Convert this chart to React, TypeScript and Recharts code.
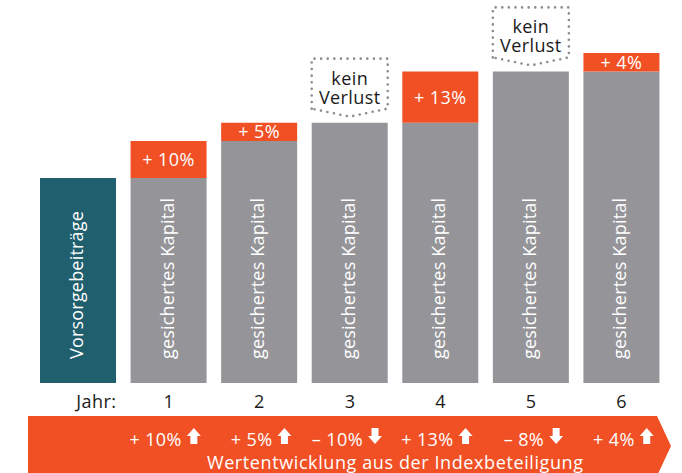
import React from "react";
import { BarChart, Bar, XAxis, YAxis, Cell, LabelList } from "recharts";

const categories = ["Jahr:", "1", "2", "3", "4", "5", "6"];
const gesichertesKapital = [100, 100, 118, 127, 127, 152, 152];
const zuwachs = [0, 18, 9, 0, 25, 0, 9];
const zuwachsLabels = ["", "+ 10%", "+ 5%", "", "+ 13%", "", "+ 4%"];
const balkenText = [
  "Vorsorgebeiträge",
  "gesichertes Kapital",
  "gesichertes Kapital",
  "gesichertes Kapital",
  "gesichertes Kapital",
  "gesichertes Kapital",
  "gesichertes Kapital",
];
const keinVerlust = ["", "", "", "kein Verlust", "", "kein Verlust", ""];
const wertentwicklung = ["", "+ 10%", "+ 5%", "– 10%", "+ 13%", "– 8%", "+ 4%"];
const richtung = ["", "up", "up", "down", "up", "down", "up"];
const bannerTitel = "Wertentwicklung aus der Indexbeteiligung";

const W = 682;
const H = 473;
const MARGIN = { top: 14, right: 15, bottom: 0, left: 33 };
const FONT = "'Open Sans', 'Noto Sans', sans-serif";
const ORANGE = "#F15025";
const TEAL = "#1F5F6E";
const GREY = "#959599";

const data = categories.map((c, i) => ({
  cat: c,
  gesichert: gesichertesKapital[i],
  zuwachs: zuwachs[i],
  zuwachsLabel: zuwachsLabels[i],
  balkenText: balkenText[i],
  keinVerlust: keinVerlust[i],
}));

const arrowPath = (ax: number, ay: number, dir: string) => {
  if (dir === "up") {
    return `M${ax + 7},${ay} L${ax + 14},${ay + 8} L${ax + 10.5},${ay + 8} L${ax + 10.5},${ay + 16} L${ax + 3.5},${ay + 16} L${ax + 3.5},${ay + 8} L${ax},${ay + 8} Z`;
  }
  return `M${ax + 7},${ay + 16} L${ax + 14},${ay + 8} L${ax + 10.5},${ay + 8} L${ax + 10.5},${ay} L${ax + 3.5},${ay} L${ax + 3.5},${ay + 8} L${ax},${ay + 8} Z`;
};

const textProps = { fontSize: 18, fontFamily: FONT, fontWeight: 400, letterSpacing: 0.4 };

const YearTick = (props: any) => {
  const { x, y, payload } = props;
  const i = payload.index;
  const band = (W - MARGIN.left - MARGIN.right) / categories.length;
  if (i === 0) {
    const left = 28;
    const right = 657;
    const top = y + 33;
    const bottom = y + 93;
    const mid = (top + bottom) / 2;
    const titleX = x + 3.5 * band;
    return (
      <g>
        <path
          d={`M${left},${top} L${right},${top} L${right + 14},${mid} L${right},${bottom} L${left},${bottom} Z`}
          fill={ORANGE}
        />
        <text x={x + 38} y={y + 25} textAnchor="end" {...textProps} fill="#1a1a1a">
          {payload.value}
        </text>
        <text x={titleX} y={y + 86} textAnchor="middle" {...textProps} letterSpacing={0.6} fill="#ffffff">
          {bannerTitel}
        </text>
      </g>
    );
  }
  return (
    <g>
      <text x={x} y={y + 25} textAnchor="middle" {...textProps} fill="#1a1a1a">
        {payload.value}
      </text>
      <text x={x + 13} y={y + 63} textAnchor="end" {...textProps} fill="#ffffff">
        {wertentwicklung[i]}
      </text>
      <path d={arrowPath(x + 18, y + 45, richtung[i])} fill="#ffffff" />
    </g>
  );
};

const getBox = (props: any) => {
  const vb = props.viewBox || {};
  const x = props.x ?? vb.x;
  const y = props.y ?? vb.y;
  const width = props.width ?? vb.width;
  const height = props.height ?? vb.height;
  return { x: Number(x), y: Number(y), width: Number(width), height: Number(height) };
};

const RotatedLabel = (props: any) => {
  const { value } = props;
  if (!value) return null;
  const { x, y, width, height } = getBox(props);
  const px = x + width / 2 + 5;
  const py = y + height - 24;
  return (
    <text
      x={px}
      y={py}
      transform={`rotate(-90, ${px}, ${py})`}
      textAnchor="start"
      {...textProps}
      letterSpacing={0.2}
      fill="#ffffff"
    >
      {value}
    </text>
  );
};

const KeinVerlustLabel = (props: any) => {
  const { value } = props;
  if (!value) return null;
  const { x, y, width } = getBox(props);
  const words = String(value).split(" ");
  const d = `M${x},${y - 14} L${x},${y - 64} L${x + width},${y - 64} L${x + width},${y - 14} L${x + width / 2},${y - 6} Z`;
  return (
    <g>
      <path
        d={d}
        fill="none"
        stroke="#8c8c90"
        strokeWidth={2.6}
        strokeDasharray="0 6.6"
        strokeLinecap="round"
        strokeLinejoin="round"
      />
      <text x={x + width / 2} y={y - 38} textAnchor="middle" {...textProps} fill="#1a1a1a">
        {words[0]}
      </text>
      <text x={x + width / 2} y={y - 19} textAnchor="middle" {...textProps} fill="#1a1a1a">
        {words[1]}
      </text>
    </g>
  );
};

const ZuwachsLabel = (props: any) => {
  const { value } = props;
  if (!value) return null;
  const { x, y, width, height } = getBox(props);
  return (
    <text
      x={x + width / 2}
      y={y + height / 2 + 6.5}
      textAnchor="middle"
      {...textProps}
      fill="#ffffff"
    >
      {value}
    </text>
  );
};

export default function App() {
  return (
    <div style={{ position: "absolute", left: 0, top: 0, width: W, height: H, background: "#fff" }}>
      <BarChart width={W} height={H} data={data} margin={MARGIN} barSize={76}>
        <YAxis hide domain={[0, 180]} />
        <XAxis
          dataKey="cat"
          axisLine={false}
          tickLine={false}
          tickSize={0}
          tickMargin={0}
          height={90}
          interval={0}
          tick={<YearTick />}
        />
        <Bar dataKey="gesichert" stackId="a" isAnimationActive={false}>
          {data.map((d, i) => (
            <Cell key={i} fill={i === 0 ? TEAL : GREY} />
          ))}
          <LabelList dataKey="balkenText" content={<RotatedLabel />} />
          <LabelList dataKey="keinVerlust" content={<KeinVerlustLabel />} />
        </Bar>
        <Bar dataKey="zuwachs" stackId="a" fill={ORANGE} isAnimationActive={false}>
          <LabelList dataKey="zuwachsLabel" content={<ZuwachsLabel />} />
        </Bar>
      </BarChart>
    </div>
  );
}
